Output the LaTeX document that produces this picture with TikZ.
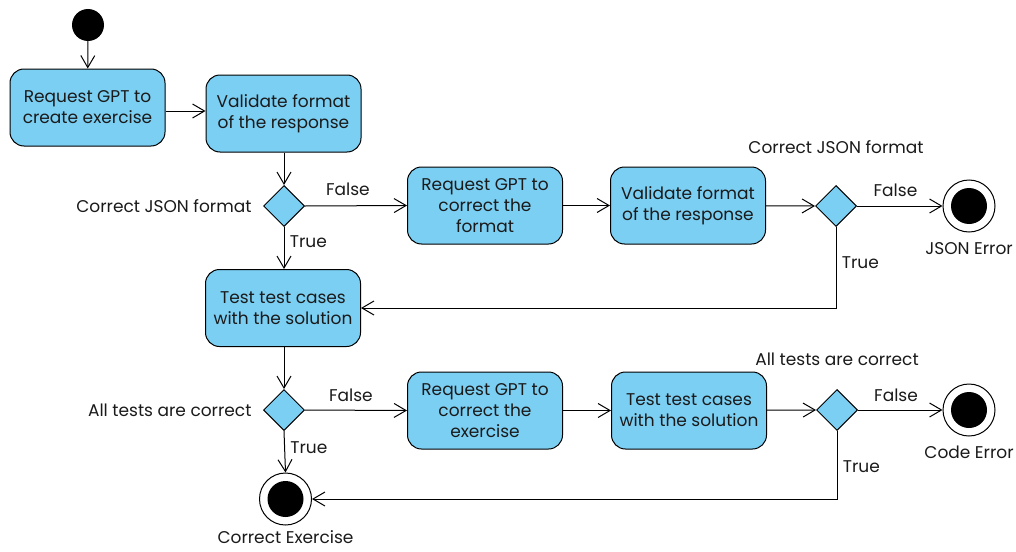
\documentclass[tikz,border=0pt]{standalone}
\usepackage{fontspec}
\setmainfont{Poppins}
\usetikzlibrary{arrows.meta,shapes.geometric,positioning}
\definecolor{actblue}{HTML}{7BCFF3}
\definecolor{ink}{HTML}{1A1A1A}
\begin{document}
\begin{tikzpicture}[
    x=1pt, y=-1pt,
    every node/.style={font=\fontsize{17}{21}\selectfont, text=ink},
    activity/.style={rectangle, rounded corners=14pt, draw, line width=1pt, fill=actblue,
        minimum width=155pt, minimum height=77pt, align=center, inner sep=2pt},
    decision/.style={diamond, draw, line width=1pt, fill=actblue, minimum size=41pt, inner sep=0pt},
    start/.style={circle, fill=black, minimum size=32pt, inner sep=0pt},
    finish/.style={circle, draw, line width=1pt, fill=white, minimum size=52pt, inner sep=0pt,
        path picture={\fill[black] (path picture bounding box.center) circle (18pt);}},
    flow/.style={-{Straight Barb[length=12pt,width=14pt,line width=1pt]}, line width=1pt}
]
\useasboundingbox (0,0) rectangle (1016,551);

% Start
\node[start] (init) at (88,25) {};
\node[activity] (create) at (87.5,107.5) {Request GPT to\\create exercise};
\node[activity] (valid) at (283.5,113.5) {Validate format\\of the response};

% Format check
\node[decision] (fmt) at (284,206) {};
\node[left=8pt of fmt] (fmtlbl) {Correct JSON format};
\node[activity] (fixfmt) at (485,205.5) {Request GPT to\\correct the\\format};
\node[activity] (revalid) at (688,205.5) {Validate format\\of the response};
\node[decision] (refmt) at (836,206) {};
\node[above=28pt of refmt] (refmtlbl) {Correct JSON format};
\node[finish] (jsonerr) at (969,206) {};
\node[below=6pt of jsonerr] (jsonlbl) {JSON Error};

% Tests
\node[activity] (test) at (283,308) {Test test cases\\with the solution};
\node[decision] (tests) at (284,410) {};
\node[left=8pt of tests] (testslbl) {All tests are correct};
\node[activity] (fixex) at (485,410.5) {Request GPT to\\correct the\\exercise};
\node[activity] (retest) at (689,410.5) {Test test cases\\with the solution};
\node[decision] (retests) at (837,410) {};
\node[above=20pt of retests] (reteslbl) {All tests are correct};
\node[finish] (codeerr) at (969,410) {};
\node[below=6pt of codeerr] (codelbl) {Code Error};

% End
\node[finish] (done) at (285.5,499) {};
\node[below=4pt of done, inner sep=1pt] (donelbl) {Correct Exercise};

% Connexions
\draw[flow] (init) -- (create);
\draw[flow] (create.east |- 0,111) -- (valid.west |- 0,111);
\draw[flow] (valid.south -| fmt) -- (fmt.north);
\draw[flow] (fmt.east) -- node[pos=0.42, above=6pt] {False} (fixfmt.west);
\draw[flow] (fmt.south) -- node[pos=0.35, right=2pt] {True} (test.north -| fmt);
\draw[flow] (fixfmt) -- (revalid);
\draw[flow] (revalid) -- (refmt.west);
\draw[flow] (refmt.east) -- node[pos=0.45, above=6pt] {False} (jsonerr.west);
\draw[flow] (refmt.south) -- node[pos=0.44, right=2pt] {True} (refmt.south |- test.east) -- (test.east);

\draw[flow] (test.south -| tests) -- (tests.north);
\draw[flow] (tests.east) -- node[pos=0.45, above=5pt] {False} (fixex.west);
\draw[flow] (tests.south) -- node[pos=0.4, right=2pt] {True} (done.north);
\draw[flow] (fixex) -- (retest);
\draw[flow] (retest) -- (retests.west);
\draw[flow] (retests.east) -- node[pos=0.45, above=5pt] {False} (codeerr.west);
\draw[flow] (retests.south) -- node[pos=0.52, right=2pt] {True} (retests.south |- done.east) -- (done.east);

\end{tikzpicture}
\end{document}
